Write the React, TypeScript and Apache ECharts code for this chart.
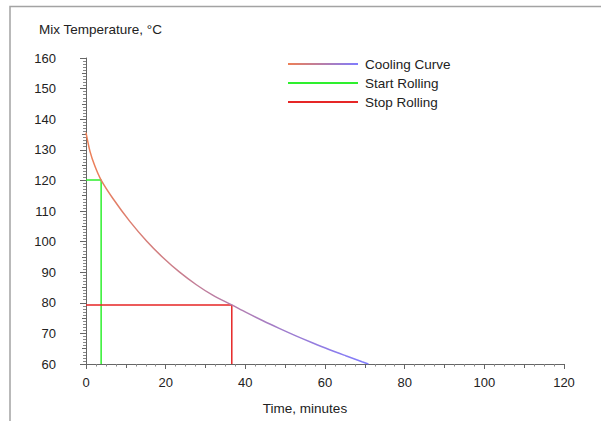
import React, { useEffect, useRef } from "react";
import * as echarts from "echarts";

const curveTime = [0, 1, 2.25, 3.8, 6.8, 11, 15.2, 19.3, 23.5, 27.7, 31.8, 36.6, 40.2, 44.3, 48.5, 52.7, 56.8, 61, 65.2, 69.3, 70.9];
const curveTemp = [135.6, 129.5, 124.6, 120.1, 114.0, 106.6, 100.2, 94.8, 90.0, 85.9, 82.5, 79.3, 76.85, 74.2, 71.65, 69.2, 66.95, 64.75, 62.7, 60.75, 60];
const startRolling = { time: 3.8, temp: 120.1 };
const stopRolling = { time: 36.6, temp: 79.3 };
const seriesNames = ["Cooling Curve", "Start Rolling", "Stop Rolling"];
const xTicks = { min: 0, max: 120, interval: 20 };
const yTicks = { min: 60, max: 160, interval: 10 };

const FONT = "'Liberation Sans', Arial, sans-serif";

export default function App() {
  const ref = useRef<HTMLDivElement>(null);
  useEffect(() => {
    if (!ref.current) return;
    const chart = echarts.init(ref.current, null, { renderer: "svg" });
    const grad = () =>
      new echarts.graphic.LinearGradient(0, 0, 1, 0, [
        { offset: 0, color: "#ee7f55" },
        { offset: 1, color: "#7f7cff" },
      ]);
    const gridPos = { left: 86, right: 37, top: 58, bottom: 57 };
    chart.setOption({
      animation: false,
      backgroundColor: "#ffffff",
      textStyle: { fontFamily: FONT },
      title: {
        text: "Mix Temperature, °C",
        left: 34,
        top: 17,
        textStyle: { fontSize: 13.5, fontWeight: "normal", color: "#222", fontFamily: FONT },
      },
      legend: {
        orient: "vertical",
        left: 288,
        top: 57,
        padding: 0,
        itemWidth: 70,
        itemHeight: 2,
        itemGap: 5,
        textStyle: { fontSize: 13.5, color: "#222", fontFamily: FONT, padding: [0, 0, 0, 2] },
        data: [
          { name: seriesNames[0], icon: "rect", itemStyle: { color: grad() } },
          { name: seriesNames[1], icon: "rect", itemStyle: { color: "#2ef02e" } },
          { name: seriesNames[2], icon: "rect", itemStyle: { color: "#e62626" } },
        ],
      },
      graphic: [
        {
          type: "polyline",
          silent: true,
          shape: { points: [[10, 421], [10, 6.5], [601, 6.5]] },
          style: { stroke: "#a3a3a3", lineWidth: 1.5, fill: null },
        },
      ],
      grid: [gridPos, gridPos],
      xAxis: [
        {
          type: "value",
          gridIndex: 0,
          min: xTicks.min,
          max: xTicks.max,
          interval: xTicks.interval,
          name: "Time, minutes",
          nameLocation: "middle",
          nameGap: 37,
          nameTextStyle: { fontSize: 13.5, color: "#222", fontFamily: FONT, padding: [0, 40, 0, 0] },
          axisLine: { lineStyle: { color: "#666", width: 1 } },
          axisTick: { length: 5, lineStyle: { color: "#666" } },
          minorTick: { show: true, splitNumber: 8, length: 2.5, lineStyle: { color: "#888" } },
          splitLine: { show: false },
          axisLabel: { fontSize: 13, color: "#222", margin: 12, fontFamily: FONT },
        },
        {
          type: "value",
          gridIndex: 1,
          min: xTicks.min,
          max: xTicks.max,
          interval: 10,
          position: "bottom",
          axisLine: { show: false },
          axisTick: { length: 4, lineStyle: { color: "#666" } },
          axisLabel: { show: false },
          splitLine: { show: false },
        },
      ],
      yAxis: [
        {
          type: "value",
          gridIndex: 0,
          min: yTicks.min,
          max: yTicks.max,
          interval: yTicks.interval,
          axisLine: { show: true, lineStyle: { color: "#666", width: 1 } },
          axisTick: { show: true, length: 6, lineStyle: { color: "#666" } },
          minorTick: { show: true, splitNumber: 10, length: 3, lineStyle: { color: "#888" } },
          splitLine: { show: false },
          axisLabel: { fontSize: 13, color: "#222", margin: 30, fontFamily: FONT },
        },
        {
          type: "value",
          gridIndex: 1,
          min: yTicks.min,
          max: yTicks.max,
          interval: 5,
          axisLine: { show: false },
          axisTick: { show: true, length: 4, lineStyle: { color: "#666" } },
          axisLabel: { show: false },
          splitLine: { show: false },
        },
      ],
      series: [
        {
          name: seriesNames[0],
          type: "line",
          xAxisIndex: 0,
          yAxisIndex: 0,
          smooth: 0.3,
          symbol: "none",
          data: curveTime.map((t, i) => [t, curveTemp[i]]),
          lineStyle: { width: 1.5, color: grad() },
          itemStyle: { color: grad() },
          z: 3,
        },
        {
          name: seriesNames[1],
          type: "line",
          xAxisIndex: 0,
          yAxisIndex: 0,
          symbol: "none",
          data: [
            [startRolling.time, yTicks.min],
            [startRolling.time, startRolling.temp],
            [xTicks.min, startRolling.temp],
          ],
          lineStyle: { width: 1.5, color: "#2ef02e" },
          itemStyle: { color: "#2ef02e" },
          z: 2,
        },
        {
          name: seriesNames[2],
          type: "line",
          xAxisIndex: 0,
          yAxisIndex: 0,
          symbol: "none",
          data: [
            [stopRolling.time, yTicks.min],
            [stopRolling.time, stopRolling.temp],
            [xTicks.min, stopRolling.temp],
          ],
          lineStyle: { width: 1.5, color: "#e62626" },
          itemStyle: { color: "#e62626" },
          z: 2,
        },
      ],
    });
    return () => chart.dispose();
  }, []);
  return <div ref={ref} style={{ width: 601, height: 421, position: "absolute", left: 0, top: 0 }} />;
}
